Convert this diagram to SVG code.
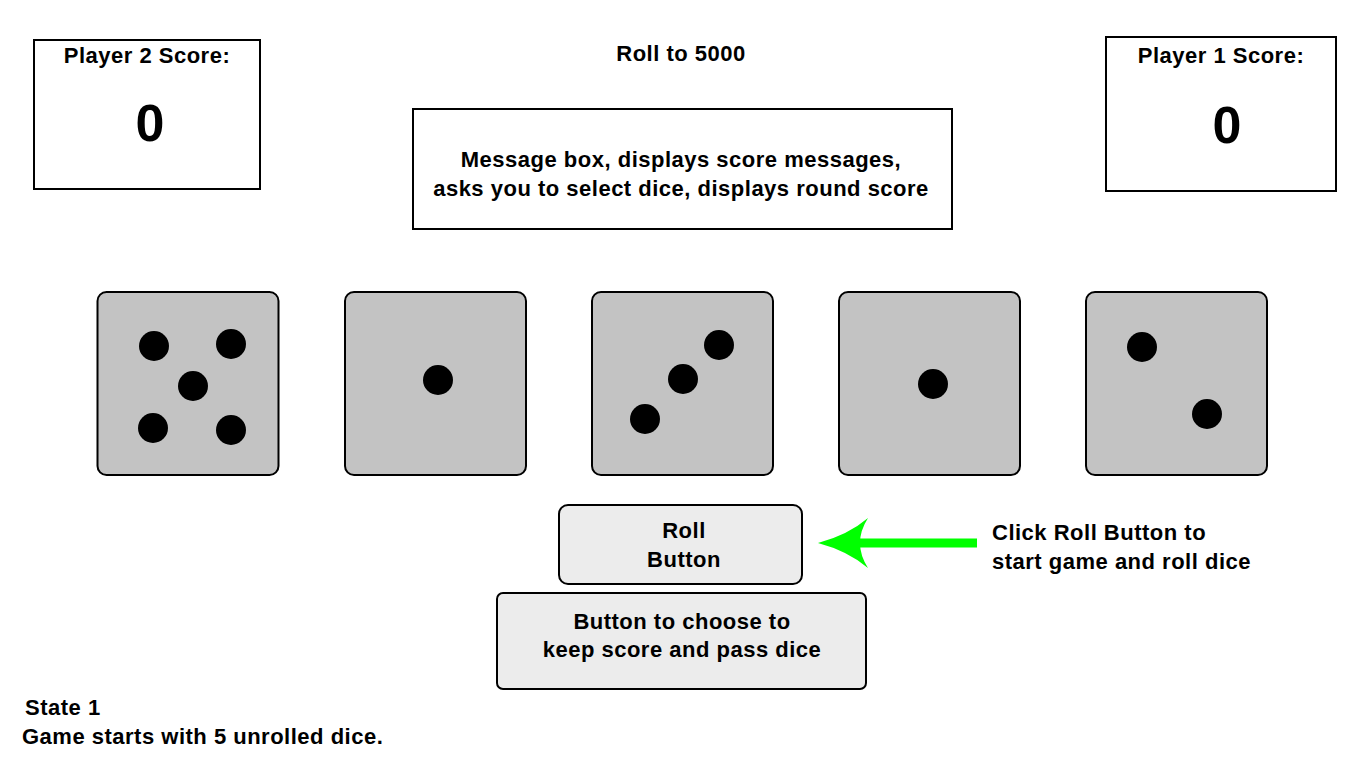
<svg xmlns="http://www.w3.org/2000/svg" width="1366" height="768" viewBox="0 0 1366 768">
<style>
.t{font-family:"Liberation Sans",Arial,Helvetica,sans-serif;font-weight:bold;fill:#000;font-size:22px;letter-spacing:0.5px}
.c{text-anchor:middle}
.box{fill:#fff;stroke:#000;stroke-width:2}
.die{fill:#c3c3c3;stroke:#000;stroke-width:2}
.btn{fill:#ececec;stroke:#000;stroke-width:2}
.pip{fill:#000}
.big{font-size:52px;letter-spacing:0}
</style>
<rect width="1366" height="768" fill="#fff"/>
<g id="player2">
<rect class="box" x="34" y="40" width="226" height="149"/>
<text class="t c" x="147" y="63">Player 2 Score:</text>
<text class="t c big" x="150" y="141">0</text>
</g>
<g id="title">
<text class="t c" x="681" y="61">Roll to 5000</text>
</g>
<g id="player1">
<rect class="box" x="1106" y="37" width="230" height="154"/>
<text class="t c" x="1221" y="63">Player 1 Score:</text>
<text class="t c big" x="1227" y="143">0</text>
</g>
<g id="message">
<rect class="box" x="413" y="109" width="539" height="120"/>
<text class="t c" x="681" y="167">Message box, displays score messages,</text>
<text class="t c" x="681" y="196">asks you to select dice, displays round score</text>
</g>
<g id="die1">
<rect class="die" x="97.5" y="292" width="181" height="183" rx="9"/>
<circle class="pip" cx="154" cy="346" r="15"/>
<circle class="pip" cx="231" cy="344" r="15"/>
<circle class="pip" cx="193" cy="386" r="15"/>
<circle class="pip" cx="153" cy="428" r="15"/>
<circle class="pip" cx="231" cy="430" r="15"/>
</g>
<g id="die2">
<rect class="die" x="345" y="292" width="181" height="183" rx="9"/>
<circle class="pip" cx="438" cy="380" r="15"/>
</g>
<g id="die3">
<rect class="die" x="592" y="292" width="181" height="183" rx="9"/>
<circle class="pip" cx="645" cy="419" r="15"/>
<circle class="pip" cx="683" cy="379" r="15"/>
<circle class="pip" cx="719" cy="345" r="15"/>
</g>
<g id="die4">
<rect class="die" x="839" y="292" width="181" height="183" rx="9"/>
<circle class="pip" cx="933" cy="384" r="15"/>
</g>
<g id="die5">
<rect class="die" x="1086" y="292" width="181" height="183" rx="9"/>
<circle class="pip" cx="1142" cy="347" r="15"/>
<circle class="pip" cx="1207" cy="414" r="15"/>
</g>
<g id="rollButton">
<rect class="btn" x="559" y="505" width="243" height="79" rx="9"/>
<text class="t c" x="684" y="538">Roll</text>
<text class="t c" x="684" y="567">Button</text>
</g>
<g id="passButton">
<rect class="btn" x="497" y="593" width="369" height="96" rx="6"/>
<text class="t c" x="682" y="629">Button to choose to</text>
<text class="t c" x="682" y="657">keep score and pass dice</text>
</g>
<g id="hint">
<text class="t" x="992" y="540">Click Roll Button to</text>
<text class="t" x="992" y="569">start game and roll dice</text>
</g>
<g id="connectors">
<line x1="977" y1="543" x2="850" y2="543" stroke="#00ff00" stroke-width="9"/>
<path d="M818,543 Q848,535 868,518 Q852,543 868,568 Q848,551 818,543 Z" fill="#00ff00"/>
</g>
<g id="state">
<text class="t" x="25" y="715">State 1</text>
<text class="t" x="22" y="744">Game starts with 5 unrolled dice.</text>
</g>
</svg>
